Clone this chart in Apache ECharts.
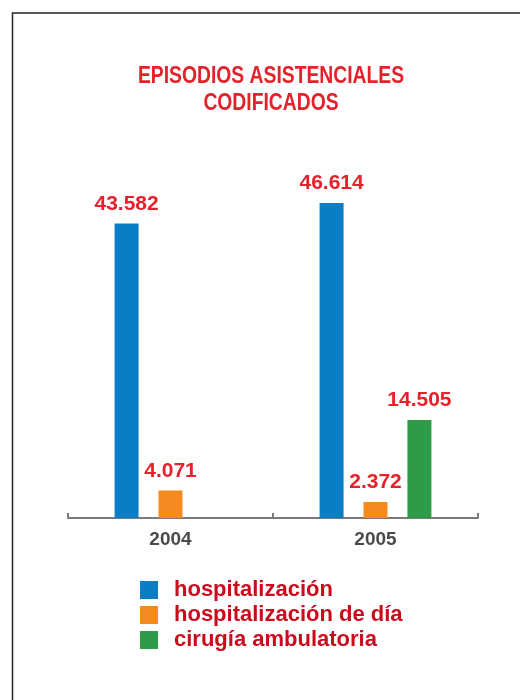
<!DOCTYPE html>
<html>
<head>
<meta charset="utf-8">
<script src="https://cdn.jsdelivr.net/npm/echarts@6/dist/echarts.min.js"></script>
<style>
  html, body { margin: 0; padding: 0; background: #fff; }
  #chart { width: 520px; height: 700px; }
</style>
</head>
<body>
<div id="chart"></div>
<script>
// datos
var years = ['2004', '2005'];
var seriesNames = ['hospitalización', 'hospitalización de día', 'cirugía ambulatoria'];
var hospitalizacion = [43582, 46614];
var hospitalizacionDia = [4071, 2372];
var cirugiaAmbulatoria = [null, 14505];

var colors = ['#0a7dc4', '#f58a20', '#2f9a47'];

// 43582 -> "43.582"
function fmt(v) {
  return String(v).replace(/\B(?=(\d{3})+(?!\d))/g, '.');
}

function makeSeries(name, data, color) {
  return {
    name: name,
    type: 'bar',
    data: data,
    barWidth: 24,
    barGap: '83%',
    itemStyle: { color: color },
    label: {
      show: true,
      position: 'top',
      distance: 9,
      color: '#e8202a',
      fontFamily: 'Liberation Sans',
      fontWeight: 'bold',
      fontSize: 21,
      formatter: function (p) { return fmt(p.value); }
    }
  };
}

var chart = echarts.init(document.getElementById('chart'));
chart.setOption({
  animation: false,
  backgroundColor: '#fff',
  graphic: [{
    type: 'rect',
    shape: { x: 12.5, y: 13, width: 600, height: 800 },
    style: { fill: 'none', stroke: '#222', lineWidth: 1.5 },
    silent: true
  }, {
    // titulo, letra estrecha
    type: 'text',
    x: 271,
    y: 63,
    scaleX: 0.84,
    silent: true,
    style: {
      text: 'EPISODIOS ASISTENCIALES\nCODIFICADOS',
      fill: '#e3222b',
      font: 'bold 23px "Liberation Sans"',
      lineHeight: 27,
      align: 'center',
      verticalAlign: 'top'
    }
  }],
  legend: {
    orient: 'vertical',
    left: 140,
    top: 579,
    itemWidth: 18,
    itemHeight: 18,
    itemGap: 3,
    icon: 'rect',
    padding: 0,
    textStyle: {
      color: '#cc0a1c',
      fontFamily: 'Liberation Sans',
      fontWeight: 'bold',
      fontSize: 22,
      padding: [0, 0, 0, 11]
    },
    data: seriesNames
  },
  grid: { left: 68, right: 42, top: 180, bottom: 182 },
  xAxis: {
    type: 'category',
    data: years,
    axisLine: { show: true, lineStyle: { color: '#7a7a7a', width: 2 } },
    axisTick: {
      show: true,
      inside: true,
      interval: 0,
      alignWithLabel: false,
      length: 5,
      lineStyle: { color: '#7a7a7a', width: 2 }
    },
    axisLabel: {
      color: '#4a4a4a',
      fontFamily: 'Liberation Sans',
      fontWeight: 'bold',
      fontSize: 19,
      margin: 12
    }
  },
  yAxis: {
    type: 'value',
    min: 0,
    max: 50000,
    show: false,
    splitLine: { show: false }
  },
  series: [
    makeSeries(seriesNames[0], hospitalizacion, colors[0]),
    makeSeries(seriesNames[1], hospitalizacionDia, colors[1]),
    makeSeries(seriesNames[2], cirugiaAmbulatoria, colors[2])
  ]
});
</script>
</body>
</html>
